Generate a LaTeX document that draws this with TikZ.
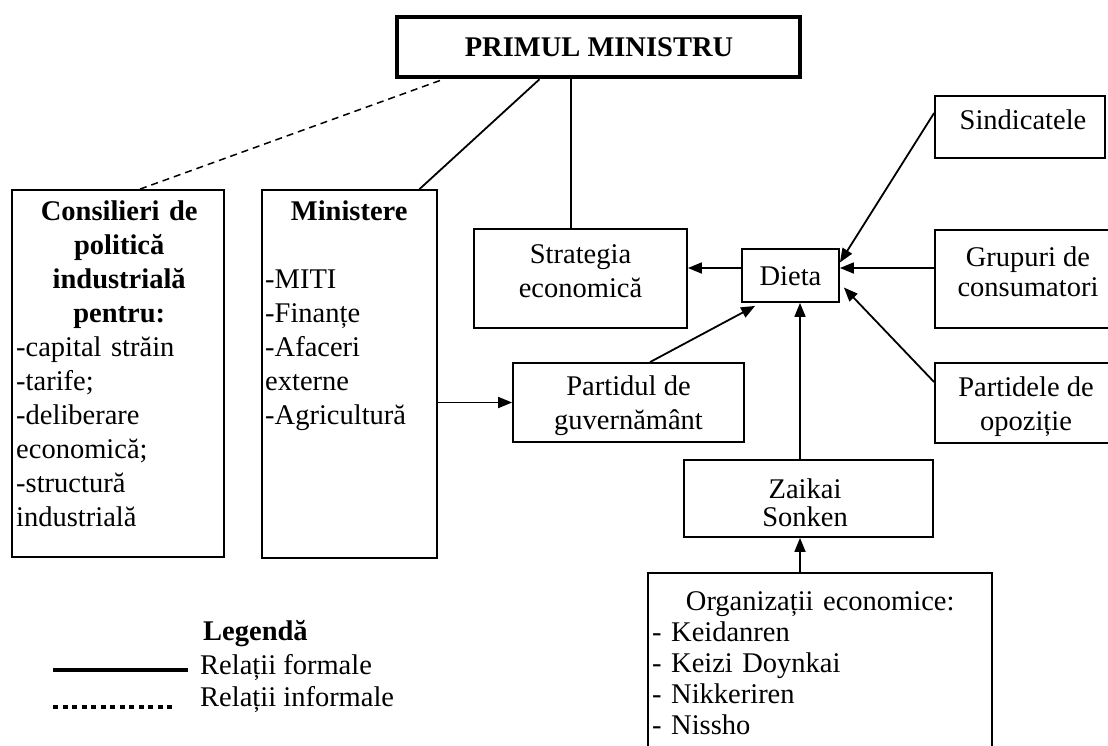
\documentclass[tikz,border=0pt]{standalone}
\usepackage{fontspec}
\setmainfont{Liberation Serif}
\usetikzlibrary{arrows.meta,calc}
\begin{document}
\begin{tikzpicture}[x=1pt,y=-1pt,
  box/.style={draw,line width=1.8pt,rectangle,inner sep=0pt},
  txt/.style={inner sep=0pt,font=\fontsize{28.5}{34}\selectfont},
  txts/.style={inner sep=0pt,font=\fontsize{28.5}{30}\selectfont,align=center},
  arr/.style={line width=1.8pt,-{Triangle[length=14pt,width=11pt]}},
  con/.style={line width=1.8pt},
  informal/.style={line width=1.5pt,dash pattern=on 7pt off 5pt}]
\useasboundingbox (0,0) rectangle (1108,745);

% boxes
\node[box,line width=4.5pt,minimum width=403pt,minimum height=60pt] (pm) at (598.5,47) {};
\node[txt,font=\fontsize{28.5}{34}\selectfont\bfseries] (pmt) at (599,47) {PRIMUL MINISTRU};

\node[box,minimum width=212pt,minimum height=367pt] (cons) at (118,373.5) {};
\node[txt,text width=206pt,anchor=north west,align=left] (const) at (16,201)
  {\centering\bfseries Consilieri de\\ politică\\ industrială\\ pentru:\par
   \raggedright\mdseries -capital străin\\ -tarife;\\ -deliberare\\ economică;\\ -structură\\ industrială};

\node[box,minimum width=175pt,minimum height=368pt] (mins) at (349.5,374) {};
\node[txt,text width=168pt,anchor=north west,align=left] (minst) at (265,201)
  {\centering\bfseries Ministere\par\vspace{34pt}
   \raggedright\mdseries -MITI\\ -Finanțe\\ -Afaceri\\ externe\\ -Agricultură};

\node[box,minimum width=213pt,minimum height=99pt] (strat) at (580.5,278.5) {};
\node[txts,font=\fontsize{28.5}{34}\selectfont] (stratt) at (580.5,271.5) {Strategia\\ economică};

\node[box,minimum width=97pt,minimum height=53pt] (dieta) at (790.5,275.5) {};
\node[txt] (dietat) at (790.5,276) {Dieta};

\node[box,minimum width=231pt,minimum height=79pt] (part) at (628.5,402.5) {};
\node[txts,font=\fontsize{28.5}{34}\selectfont] (partt) at (628.5,406) {Partidul de\\ guvernământ};

\node[box,minimum width=170pt,minimum height=62pt] (sind) at (1020,127) {};
\node[txt] (sindt) at (1023,120) {Sindicatele};

\node[box,minimum width=186pt,minimum height=98pt] (grup) at (1028,279) {};
\node[txts] (grupt) at (1028,272) {Grupuri de\\ consumatori};

\node[box,minimum width=186pt,minimum height=80pt] (partd) at (1028,403) {};
\node[txts,font=\fontsize{28.5}{34}\selectfont] (partdt) at (1026,407) {Partidele de\\ opoziție};

\node[box,minimum width=249pt,minimum height=77pt] (zai) at (808.5,498.5) {};
\node[txts,font=\fontsize{28.5}{28}\selectfont] (zait) at (805,503) {Zaikai\\ Sonken};

\node[box,minimum width=344pt,minimum height=207pt] (org) at (820,676.5) {};
\node[txt,font=\fontsize{28.5}{31}\selectfont,text width=336pt,anchor=north west,align=left] (orgt) at (652,591)
  {\centering Organizații economice:\par
   \raggedright - Keidanren\\ - Keizi Doynkai\\ - Nikkeriren\\ - Nissho};

% connectors
\draw[informal] ([xshift=22pt]cons.north) -- ([xshift=-155pt]pm.south);
\draw[con] ([xshift=70pt]mins.north) -- ([xshift=-59pt]pm.south);
\draw[con] ([xshift=-9.5pt]strat.north) -- ([xshift=-9.5pt]strat.north |- pm.south);
\draw[arr] ([yshift=7.5pt]dieta.west) -- ([yshift=7.5pt]dieta.west -| strat.east);
\draw[arr] (mins.east |- part.west) -- (part.west);
\draw[arr] ([xshift=21.5pt]part.north) -- ([xshift=14pt,yshift=-3pt]dieta.south west);
\draw[arr] ([xshift=-8.5pt]zai.north) -- ([xshift=-8.5pt]zai.north |- dieta.south);
\draw[arr] ([xshift=-20pt]org.north) -- ([xshift=-20pt]org.north |- zai.south);
\draw[arr] ([yshift=14pt]sind.west) -- ([yshift=13pt]dieta.east);
\draw[arr] ([yshift=11pt]grup.west) -- ([yshift=7.5pt]dieta.east);
\draw[arr] ([yshift=21pt]partd.west) -- ([yshift=-12pt,xshift=4pt]dieta.east);

% legend
\node[txt,font=\fontsize{28.5}{34}\selectfont\bfseries,anchor=west] (leg) at (203,634) {Legendă};
\node[txt,anchor=west] (legf) at (200,667) {Relații formale};
\node[txt,anchor=west] (legi) at (200,699) {Relații informale};
\coordinate (lfa) at (53,670);
\coordinate (lfb) at (188,670);
\coordinate (lia) at (53,707);
\coordinate (lib) at (175,707);
\draw[line width=4pt] (lfa) -- (lfb);
\draw[line width=3.5pt,dash pattern=on 5pt off 4.5pt] (lia) -- (lib);
\end{tikzpicture}
\end{document}
